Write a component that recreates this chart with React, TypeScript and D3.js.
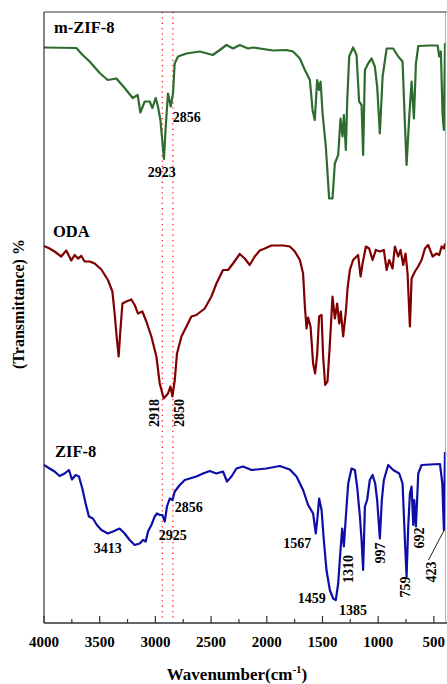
import React from 'react'
import * as d3 from 'd3'

// wavenumber (cm-1) for each spectrum
const mzifWn = [4000,3710,3653,3590,3500,3428,3350,3276,3204,3159,3135,3096,3051,3027,2997,2977,2955,2923,2907,2887,2862,2842,2827,2797,2721,2602,2485,2422,2362,2303,2243,2168,2123,1943,1823,1764,1703,1658,1613,1589,1569,1548,1530,1517,1499,1470,1440,1410,1389,1359,1338,1320,1308,1290,1278,1260,1225,1194,1171,1149,1135,1119,1090,1059,1030,1009,985,960,924,865,820,781,760,745,721,700,679,661,640,535,466,452,437,422,410,400]
const mzifT = [115.1,115,113.6,112.3,110,108.6,108.9,107,105,105.6,102.1,104.3,104.3,103,105,103.3,100.6,92.8,99.3,105.9,103.3,105.9,111.9,113.3,113.9,114.3,113.6,114.6,115.6,114.9,115.6,114.9,115.1,114.5,114.6,114.3,112.9,110.6,108.6,102.6,100.6,108.6,106.6,108.3,101.9,95.3,84.9,84.9,91.9,93.6,100.9,97.3,101.6,94.6,104.3,113.3,115.1,113.6,104.3,103.6,93.6,110.6,111.9,112.9,111.3,107.3,97.9,109.3,114.9,114.9,113.3,112.3,99.9,91.6,101.3,108.3,100.9,111.9,115.4,115.5,115.5,113.3,114.3,101.9,98.6,116]

const odaWn = [4000,3950,3905,3845,3800,3755,3725,3695,3665,3635,3590,3545,3485,3426,3386,3366,3345,3330,3314,3296,3261,3216,3186,3156,3117,3081,3036,2991,2961,2925,2887,2865,2847,2826,2806,2766,2721,2677,2632,2557,2497,2452,2393,2348,2303,2243,2198,2153,2108,2063,2018,1958,1853,1793,1748,1703,1674,1658,1643,1629,1607,1584,1566,1548,1530,1508,1494,1476,1455,1434,1410,1389,1368,1350,1335,1314,1290,1275,1254,1225,1180,1158,1140,1110,1081,1050,1021,985,949,924,901,871,850,820,799,775,754,736,715,700,670,641,610,580,551,511,475,452,430,410,400]
const odaT = [75.4,74.9,74.3,73.3,74.5,72.5,73.6,72.9,73.4,72.3,72.3,71.9,70.7,68.6,66.3,61.9,56.6,53.3,58.6,63.9,64.3,64.7,63.6,61.9,62.3,60.3,57.3,53.3,47.9,44.9,45.9,47.3,45.3,48.6,53.9,57.3,59.3,61.3,61.6,62.9,65.3,67.9,70.6,70.6,71.9,73.8,72.9,71.6,73.3,74.5,74.9,75.5,75.5,75.3,74.3,72.6,69.9,63.3,58.9,61.1,59.3,51.9,49.9,53.6,61.3,61.6,53.3,47.6,48.3,55.6,65.3,60.9,63.9,59.9,62.3,57.3,62.3,66.9,70.6,72.6,73.6,69.3,71.9,75.3,74.9,72.6,74.6,74.3,74.6,70.6,72.6,70.9,75.3,73.3,74.6,71.6,73.9,69.9,59.3,68.9,70.3,71.3,72.6,74.9,75.6,73.3,73.9,73.6,75.3,74.9,75.9]

const zifWn = [4000,3950,3905,3860,3815,3776,3749,3716,3686,3656,3626,3597,3561,3525,3485,3426,3381,3321,3276,3231,3186,3141,3111,3087,3066,3036,3006,2986,2961,2937,2916,2896,2871,2847,2826,2781,2736,2691,2632,2572,2512,2452,2393,2357,2317,2272,2213,2137,2003,1883,1793,1733,1674,1629,1584,1560,1544,1530,1508,1488,1464,1434,1404,1380,1359,1338,1323,1308,1290,1269,1239,1209,1189,1164,1149,1135,1119,1099,1075,1050,1027,1009,985,967,949,910,865,811,781,760,745,730,715,700,685,676,661,640,610,535,445,424,410,400]
const zifT = [31.6,30.9,30.3,29.4,29.9,30.6,28.7,29.6,29.3,26.9,23.9,21.3,20.9,19.6,18.6,17.9,18.3,18.9,17.9,16.6,15.6,15.9,16.6,16.3,18.3,19.6,21.3,21.9,21.6,21.6,20.3,23.3,24.9,24.6,26.3,27.6,28.6,28.9,29.3,29.9,30.4,29.9,30.3,28.3,29.3,30.9,31.3,30.6,30.9,31.4,30.7,29.3,26.6,23.6,21.9,17.9,21.3,24.9,22.6,16.6,10.6,6.6,4.9,4.6,7.9,14.6,18.9,15.3,21.3,27.9,30.9,30.6,27.3,21.3,16.6,10.6,23.3,24.6,28.6,29.6,27.9,24.6,16.9,24.6,28.6,31.6,30.6,29.9,27.9,16.6,9.3,19.3,25.9,27.3,19.6,24.6,19.3,29.9,31.6,31.7,31.8,27.9,18.6,34.2]

const seriesNames = ['m-ZIF-8', 'ODA', 'ZIF-8']
const seriesColors = ['#2e6b2e', '#800000', '#0d0da8']
const seriesNameWn = [3910, 3919, 3901]
const seriesNameT = [118, 77.2, 33.2]

const refLinesWn = [2938, 2843]
const xTicks = [4000, 3500, 3000, 2500, 2000, 1500, 1000, 500]
const xMinor = [3750, 3250, 2750, 2250, 1750, 1250, 750]

// peak labels: text, wavenumber, T, rotated
const peakText = ['2923', '2856', '2918', '2850', '3413', '2925', '2856', '1567', '1459', '1385', '1310', '997', '759', '692', '423']
const peakWn = [2943, 2845, 3006, 2782, 3428, 2844, 2826, 1726, 1596, 1227, 1263, 976, 751, 625, 517]
const peakT = [89.2, 100.2, 42, 42, 14, 16.6, 22.2, 15, 4, 1.6, 10.8, 14, 7.2, 17, 10.2]
const peakRot = [false, false, true, true, false, false, false, false, false, false, true, true, true, true, true]
const peakAnchor = ['middle', 'start', 'middle', 'middle', 'middle', 'middle', 'start', 'middle', 'middle', 'middle', 'middle', 'middle', 'middle', 'middle', 'middle']

const W = 447
const H = 684
const left = 44
const right = 445
const top = 12
const bottom = 623
const font = '"Liberation Serif", "Times New Roman", serif'

export default function App() {
  const x = d3.scaleLinear().domain([4000, 400]).range([left, right])
  const y = d3.scaleLinear().domain([0, 122.2]).range([bottom, top])

  const line = d3.line<[number, number]>().x(d => x(d[0])).y(d => y(d[1]))
  const spectra = [
    d3.zip(mzifWn, mzifT) as [number, number][],
    d3.zip(odaWn, odaT) as [number, number][],
    d3.zip(zifWn, zifT) as [number, number][],
  ]

  return (
    <svg width={W} height={H} style={{ position: 'absolute', left: 0, top: 0, background: '#fff' }} fontFamily={font}>
      {/* reference lines */}
      {refLinesWn.map((w, i) => (
        <line key={i} x1={x(w)} x2={x(w)} y1={top} y2={bottom - 4}
          stroke="#ff2020" strokeWidth={1.3} strokeDasharray="1.3,4" />
      ))}

      {spectra.map((s, i) => (
        <path key={i} d={line(s) || ''} fill="none" stroke={seriesColors[i]} strokeWidth={2.2} strokeLinejoin="round" />
      ))}

      {/* frame */}
      <line x1={left} x2={W} y1={top} y2={top} stroke="#333" strokeWidth={1} />
      <line x1={left} x2={left} y1={top} y2={bottom} stroke="#333" strokeWidth={1.2} />
      <line x1={right + 0.5} x2={right + 0.5} y1={top} y2={bottom} stroke="#999" strokeWidth={0.8} />
      <line x1={left} x2={W} y1={bottom} y2={bottom} stroke="#333" strokeWidth={1.5} />

      {xTicks.map(t => (
        <g key={t}>
          <line x1={x(t)} x2={x(t)} y1={bottom} y2={bottom - 7} stroke="#333" strokeWidth={1.2} />
          <text x={x(t)} y={647} textAnchor="middle" fontSize={15} fontWeight="bold">{t}</text>
        </g>
      ))}
      {xMinor.map(t => (
        <line key={t} x1={x(t)} x2={x(t)} y1={bottom} y2={bottom - 4} stroke="#333" strokeWidth={1.2} />
      ))}

      {seriesNames.map((n, i) => (
        <text key={n} x={x(seriesNameWn[i])} y={y(seriesNameT[i])} fontSize={16.5} fontWeight="bold">{n}</text>
      ))}

      {peakText.map((t, i) => {
        const px = x(peakWn[i])
        const py = y(peakT[i])
        return peakRot[i] ? (
          <text key={i} transform={`translate(${px},${py}) rotate(-90)`} textAnchor="middle"
            dominantBaseline="central" fontSize={14} fontWeight="bold">{t}</text>
        ) : (
          <text key={i} x={px} y={py} textAnchor={peakAnchor[i]} fontSize={14} fontWeight="bold">{t}</text>
        )
      })}
      <line x1={x(548)} y1={y(12.6)} x2={x(407)} y2={y(18.6)} stroke="#222" strokeWidth={1} />

      <text transform={`translate(18,${304}) rotate(-90)`} textAnchor="middle"
        dominantBaseline="central" fontSize={16} fontWeight="bold">(Transmittance) %</text>
      <text x={237} y={680} textAnchor="middle" fontSize={17} fontWeight="bold">
        Wavenumber(cm<tspan dy={-7} fontSize={11}>-1</tspan><tspan dy={7}>)</tspan>
      </text>
    </svg>
  )
}
